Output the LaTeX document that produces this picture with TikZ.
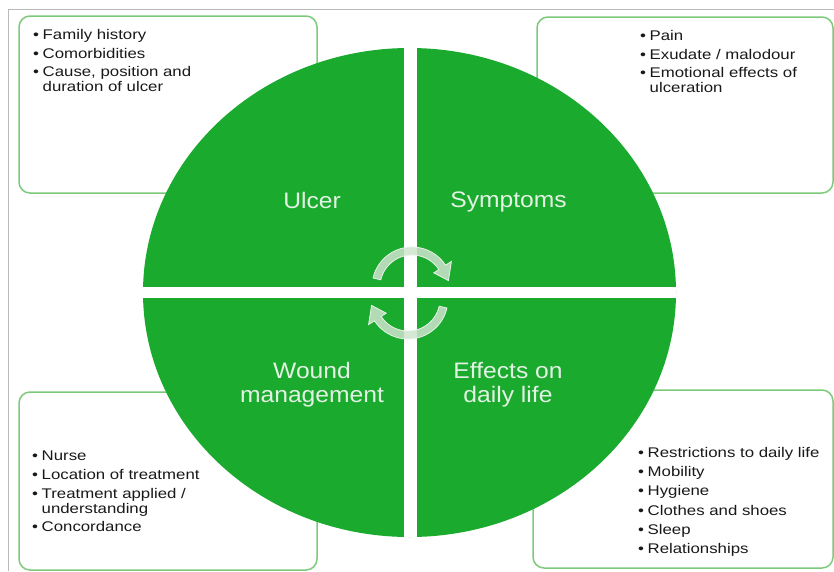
\documentclass[tikz,border=0pt]{standalone}
\usepackage{fontspec}
\setmainfont{Liberation Sans}
\newfontfamily\listfont[FakeStretch=1.2]{Liberation Sans}
\newfontfamily\quadfont[FakeStretch=1.1]{Liberation Sans}

\definecolor{ringgreen}{RGB}{26,170,46}
\definecolor{boxgreen}{RGB}{125,202,125}
\definecolor{framegray}{RGB}{185,185,185}
\definecolor{listtext}{RGB}{25,25,25}
\definecolor{quadtext}{RGB}{228,242,228}
\definecolor{cycfill}{RGB}{205,228,205}
\definecolor{cycedge}{RGB}{232,242,232}

\newcommand{\bul}{\makebox[9.5pt][l]{\textbullet}}
\newcommand{\ind}{\hspace*{9.5pt}}

\tikzset{
  infobox/.style={draw=boxgreen, line width=1.5pt, rounded corners=11pt, fill=white, inner sep=0pt},
  itemlist/.style={align=left, inner sep=0pt, text=listtext, font=\listfont\fontsize{14}{15}\selectfont},
  quadlabel/.style={inner sep=0pt, text=quadtext, font=\quadfont\fontsize{22.4}{24}\selectfont},
  cycarrow/.style={fill=cycfill, fill opacity=0.85, draw=cycedge, line width=0.8pt}
}

\begin{document}
\begin{tikzpicture}[x=1pt,y=-1pt]
\useasboundingbox (0,0) rectangle (834,571);
\fill[white] (0,0) rectangle (834,571);

% frame
\draw[framegray, line width=1pt] (8.5,571) -- (8.5,9.5) -- (834,9.5);

% side boxes
\draw (168,104.5) node(HISTBOX)[infobox,minimum width=298pt,minimum height=177pt]{};
\draw (685,105) node(SYMPBOX)[infobox,minimum width=296pt,minimum height=176pt]{};
\draw (168,481) node(CAREBOX)[infobox,minimum width=298pt,minimum height=178pt]{};
\draw (683,479) node(LIFEBOX)[infobox,minimum width=300pt,minimum height=178pt]{};

% the four quarters
\begin{scope}
\clip (409.5,292.5) ellipse [x radius=266.5, y radius=244.5];
\fill[ringgreen] (135,40) rectangle (685,545);
\fill[white] (404,40) rectangle (417,545);
\fill[white] (135,287) rectangle (685,298);
\end{scope}

% cycle arrows
\begin{scope}[shift={(412,287)}, yscale=-1]
\filldraw[cycarrow] (167:40) arc[start angle=167, end angle=33, radius=40] -- (33:47) -- (10:37) -- (33:26) -- (33:32) arc[start angle=33, end angle=167, radius=32] -- cycle;
\end{scope}
\begin{scope}[shift={(408,299)}, yscale=-1, rotate=180]
\filldraw[cycarrow] (167:40) arc[start angle=167, end angle=33, radius=40] -- (33:47) -- (10:37) -- (33:26) -- (33:32) arc[start angle=33, end angle=167, radius=32] -- cycle;
\end{scope}

% quarter labels
\draw (312,192) node(ULCER)[quadlabel,anchor=north]{Ulcer};
\draw (508.5,192) node(SYMPT)[quadlabel,anchor=north]{Symptoms};
\draw (312,362) node(WOUND)[quadlabel,anchor=north,align=center]{Wound\\management};
\draw (508,362) node(DAILY)[quadlabel,anchor=north,align=center]{Effects on\\daily life};

% lists
\draw (33,29) node(HISTLIST)[itemlist,anchor=north west]{\bul Family history\\[3.7pt]\bul Comorbidities\\[3.7pt]\bul Cause, position and\\\ind duration of ulcer};
\draw (640,30) node(SYMPLIST)[itemlist,anchor=north west]{\bul Pain\\[3.7pt]\bul Exudate / malodour\\[3.7pt]\bul Emotional effects of\\\ind ulceration};
\draw (32,451) node(CARELIST)[itemlist,anchor=north west]{\bul Nurse\\[3.7pt]\bul Location of treatment\\[3.7pt]\bul Treatment applied /\\\ind understanding\\[3.7pt]\bul Concordance};
\draw (638,447) node(LIFELIST)[itemlist,anchor=north west]{\bul Restrictions to daily life\\[4.3pt]\bul Mobility\\[4.3pt]\bul Hygiene\\[4.3pt]\bul Clothes and shoes\\[4.3pt]\bul Sleep\\[4.3pt]\bul Relationships};

\end{tikzpicture}
\end{document}
